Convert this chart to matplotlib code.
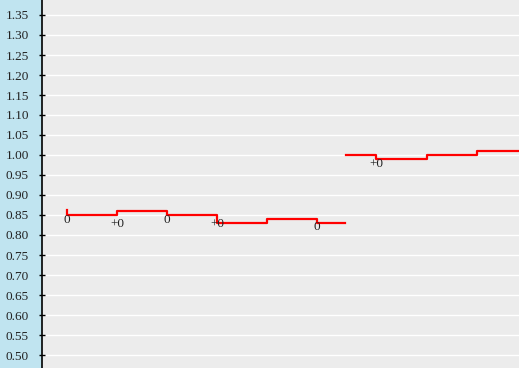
import matplotlib.pyplot as plt
import numpy as np

# first run of steps
t1 = [0, 0, 1, 2, 3, 4, 5, 5.56]
v1 = [0.862, 0.85, 0.86, 0.85, 0.83, 0.84, 0.83, 0.83]

# second run of steps
t2 = [5.58, 6.18, 7.2, 8.2, 9.5]
v2 = [1.00, 0.99, 1.00, 1.01, 1.01]

# change labels at step points
lab_t = [0, 1, 2, 3, 5, 6.18]
lab_v = [0.8375, 0.8275, 0.8375, 0.8275, 0.82, 0.9775]
lab_txt = ['0', '+0', '0', '+0', '0', '+0']

yticks = np.round(np.arange(0.50, 1.351, 0.05), 2)

plt.rcParams['font.family'] = ['Liberation Serif', 'DejaVu Serif']

fig = plt.figure(figsize=(5.19, 3.68), dpi=100, facecolor='#c0e4f0')
ax = fig.add_axes([42 / 519, 0, 1 - 42 / 519, 1])
ax.set_facecolor('#ececec')

ax.step(t1, v1, where='post', color='red', lw=1.6)
ax.step(t2, v2, where='post', color='red', lw=1.6)

for t, v, s in zip(lab_t, lab_v, lab_txt):
    ax.text(t, v, s, ha='center', va='center', fontsize=9.5, color='#222222')

ax.set_xlim(-0.5, 9.04)
ax.set_ylim(0.4675, 1.3875)
ax.set_yticks(yticks)
ax.set_yticklabels(['%.2f' % y for y in yticks])
ax.tick_params(axis='y', direction='inout', length=5, width=1, pad=7, labelsize=9.5, labelcolor='#222222')
ax.set_xticks([])
ax.grid(axis='y', color='white', lw=1)
ax.set_axisbelow(True)
for s in ['top', 'right', 'bottom']:
    ax.spines[s].set_visible(False)
ax.spines['left'].set_linewidth(1.2)

fig.savefig('out.png', dpi=100, facecolor=fig.get_facecolor())
